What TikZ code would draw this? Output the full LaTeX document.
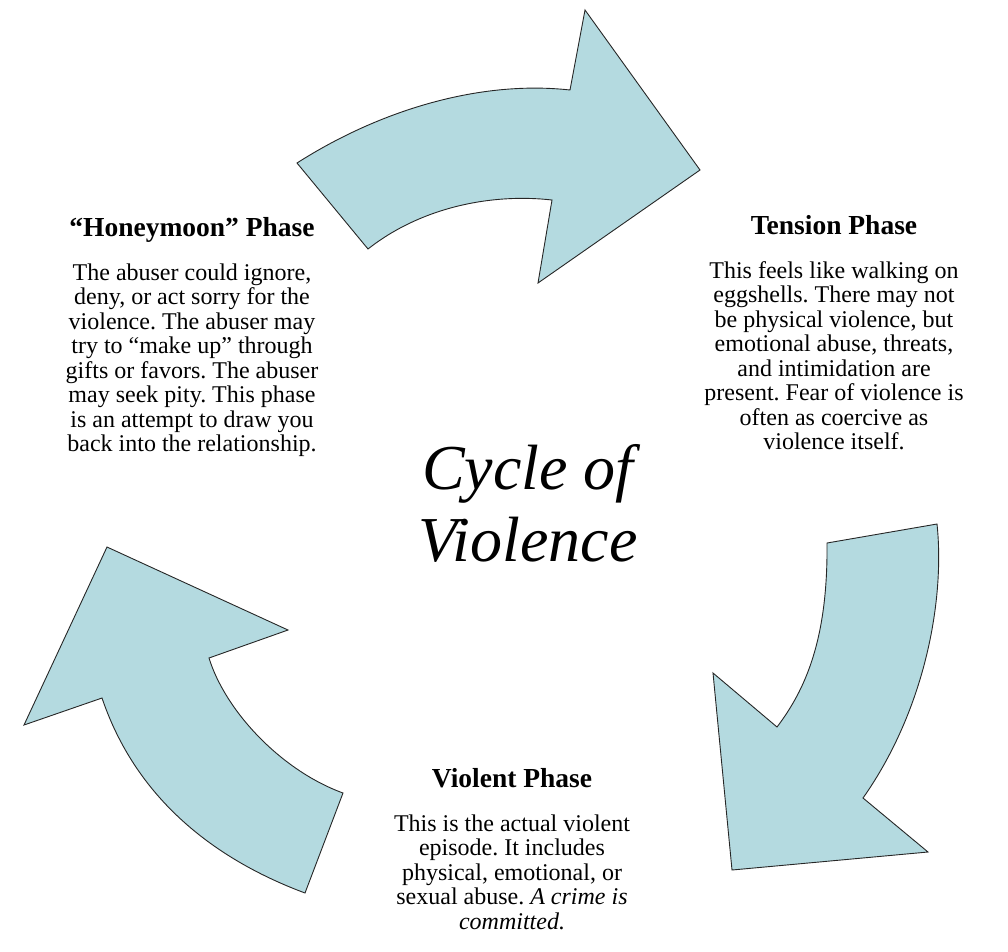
\documentclass[tikz,border=0pt]{standalone}
\usepackage{fontspec}
\setmainfont{Liberation Serif}
\usetikzlibrary{positioning}
\definecolor{arrowblue}{RGB}{180,218,224}
\tikzset{
  phasearrow/.style={fill=arrowblue,draw=black!85,line width=0.9pt,line join=miter},
  phasetitle/.style={font=\fontsize{27.5}{30}\selectfont\bfseries,inner sep=0pt,text depth=6pt},
  phasetext/.style={font=\fontsize{24}{24.5}\selectfont\frenchspacing,align=center,inner sep=0pt},
}

\begin{document}
\begin{tikzpicture}[x=1pt,y=-1pt]
            \draw[draw=none,use as bounding box] (0,0) rectangle (1008,951);
            % the three arrows
            \draw[phasearrow] (297,163) .. controls (380,110) and (480,80) .. (570,90)
                -- (585,10) -- (700,170) -- (538,283) -- (552,200)
                .. controls (490,193) and (420,208) .. (368,249) -- cycle;
            \draw[phasearrow] (827,543) -- (937,524)
                .. controls (945,600) and (925,710) .. (863,798)
                -- (928,852) -- (732,870) -- (713,673) -- (777,727)
                .. controls (805,690) and (828,640) .. (827,543) -- cycle;
            \draw[phasearrow] (107,547) -- (288,630) -- (209,658)
                .. controls (225,710) and (280,770) .. (343,793) -- (305,893)
                .. controls (230,865) and (140,810) .. (102,698) -- (24,725) -- cycle;
            % centre
            \node[font=\fontsize{64}{72}\selectfont\itshape,align=center,inner sep=0pt] (cycle) at (528,503) {Cycle of\\Violence};
            % phases
            \node[phasetitle,anchor=base] (hmTitle) at (192,236) {``Honeymoon'' Phase};
            \node[phasetext,below=21pt of hmTitle] (hmText) {The abuser could ignore,\\deny, or act sorry for the\\violence. The abuser may\\try to ``make up'' through\\gifts or favors. The abuser\\may seek pity. This phase\\is an attempt to draw you\\back into the relationship.};
            \node[phasetitle,anchor=base] (tnTitle) at (834,234) {Tension Phase};
            \node[phasetext,below=21pt of tnTitle] (tnText) {This feels like walking on\\eggshells. There may not\\be physical violence, but\\emotional abuse, threats,\\and intimidation are\\present. Fear of violence is\\often as coercive as\\violence itself.};
            \node[phasetitle,anchor=base] (vlTitle) at (512,787) {Violent Phase};
            \node[phasetext,below=21pt of vlTitle] (vlText) {This is the actual violent\\episode. It includes\\physical, emotional, or\\sexual abuse. \textit{A crime is}\\\textit{committed.}};
        \end{tikzpicture}
\end{document}
